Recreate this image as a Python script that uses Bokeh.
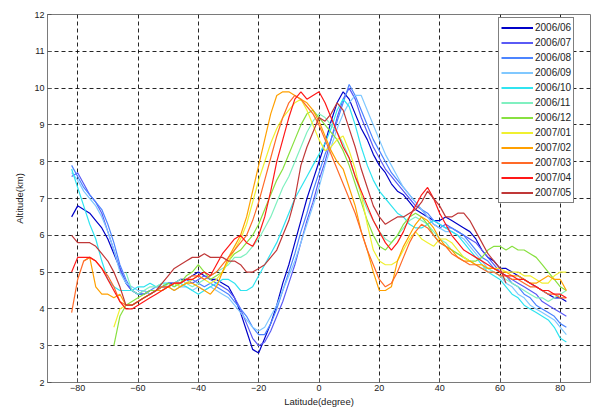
import numpy as np
from bokeh.plotting import figure
from bokeh.models import FixedTicker, Range1d, ColumnDataSource, Legend, LegendItem
from bokeh.embed import file_html
from bokeh.resources import INLINE

N = None

LAT = [-82,
       -80, -78, -76, -74, -72, -70, -68, -66, -64, -62,
       -60, -58, -56, -54, -52, -50, -48, -46, -44, -42,
       -40, -38, -36, -34, -32, -30, -28, -26, -24, -22,
       -20, -18, -16, -14, -12, -10, -8, -6, -4, -2,
       0, 2, 4, 6, 8, 10, 12, 14, 16, 18,
       20, 22, 24, 26, 28, 30, 32, 34, 36, 38,
       40, 42, 44, 46, 48, 50, 52, 54, 56, 58,
       60, 62, 64, 66, 68, 70, 72, 74, 76, 78,
       80, 82]

MONTHS = ["2006/06", "2006/07", "2006/08", "2006/09", "2006/10", "2006/11",
          "2006/12", "2007/01", "2007/02", "2007/03", "2007/04", "2007/05"]

COLORS = ["#0000c8", "#5a5af5", "#4c84ff", "#80c8ff", "#30e4f0", "#80f0c0",
          "#88e040", "#f0f030", "#ffa000", "#ff6a28", "#ff1818", "#c03838"]

S0606 = [6.5,
         6.8, 6.7, 6.6, 6.4, 6.2,  5.9, 5.5, 5.1, 4.7, 4.5,
         4.4, 4.4, 4.5, 4.5, 4.6,  4.7, 4.7, 4.8, 4.8, 4.9,
         5.0, 4.9, 4.8, 4.8, 4.7,  4.6, 4.3, 3.9, 3.4, 2.9,
         2.8, 3.2, 3.6, 4.1, 4.7,  5.2, 5.8, 6.4, 7.0, 7.5,
         8.0, 8.5, 9.1, 9.6, 9.9,  9.7, 9.3, 8.9, 8.6, 8.2,
         7.9, 7.7, 7.4, 7.2, 7.1,  6.9, 6.7, 6.6, 6.5, 6.4,
         6.4, 6.5, 6.4, 6.3, 6.2,  6.1, 5.9, 5.6, 5.4, 5.3,
         5.1, 5.1, 5.0, 4.9, 4.8,  4.7, 4.6, 4.5, 4.4, 4.3,
         4.3, 4.2]

S0607 = [7.6,
         7.7, 7.4, 7.1, 6.9, 6.6,  6.1, 5.6, 5.1, 4.7, 4.5,
         4.4, 4.5, 4.4, 4.5, 4.6,  4.6, 4.7, 4.7, 4.8, 4.7,
         4.8, 4.9, 4.8, 4.7, 4.6,  4.5, 4.3, 4.0, 3.6, 3.2,
         3.0, 3.1, 3.4, 3.8, 4.2,  4.7, 5.2, 5.8, 6.4, 6.9,
         7.5, 8.0, 8.6, 9.2, 9.7,  10.0, 9.7, 9.2, 8.8, 8.4,
         8.1, 7.8, 7.6, 7.4, 7.2,  7.0, 6.8, 6.7, 6.5, 6.3,
         6.2, 6.3, 6.2, 6.1, 6.0,  5.9, 5.8, 5.6, 5.4, 5.2,
         5.0, 4.9, 4.8, 4.7, 4.6,  4.5, 4.4, 4.2, 4.1, 4.0,
         3.9, 3.8]

S0608 = [7.9,
         7.6, 7.3, 7.1, 6.9, 6.7,  6.3, 5.8, 5.2, 4.8, 4.5,
         4.4, 4.4, 4.5, 4.6, 4.6,  4.6, 4.7, 4.6, 4.7, 4.8,
         4.7, 4.6, 4.7, 4.6, 4.5,  4.4, 4.2, 4.0, 3.8, 3.5,
         3.3, 3.3, 3.6, 4.0, 4.5,  5.0, 5.5, 6.1, 6.6, 7.2,
         7.7, 8.2, 8.6, 9.1, 9.6,  10.1, 9.8, 9.4, 9.0, 8.6,
         8.3, 8.0, 7.7, 7.5, 7.3,  7.1, 6.9, 6.7, 6.6, 6.4,
         6.3, 6.2, 6.2, 6.1, 6.0,  5.8, 5.6, 5.4, 5.3, 5.1,
         5.0, 4.9, 4.7, 4.6, 4.4,  4.3, 4.1, 4.0, 3.9, 3.8,
         3.6, 3.5]

S0609 = [7.7,
         7.5, 7.2, 7.0, 6.8, 6.5,  6.1, 5.6, 5.0, 4.7, 4.6,
         4.5, 4.5, 4.4, 4.5, 4.5,  4.6, 4.5, 4.6, 4.6, 4.5,
         4.6, 4.5, 4.6, 4.5, 4.4,  4.3, 4.1, 3.9, 3.7, 3.5,
         3.4, 3.5, 3.8, 4.1, 4.5,  4.9, 5.3, 5.8, 6.3, 6.8,
         7.3, 7.9, 8.4, 8.9, 9.3,  9.6, 9.8, 9.8, 9.4, 9.0,
         8.6, 8.2, 7.9, 7.6, 7.3,  7.1, 6.9, 6.7, 6.5, 6.3,
         6.2, 6.1, 6.1, 6.0, 5.9,  5.7, 5.5, 5.3, 5.1, 5.0,
         4.9, 4.7, 4.6, 4.4, 4.3,  4.1, 4.0, 3.9, 3.8, 3.7,
         3.5, 3.3]

S0610 = [7.8,
         7.3, 6.8, 6.3, 5.9, 5.3,  4.8, 4.6, 4.5, 4.5, 4.5,
         4.6, 4.6, 4.7, 4.6, 4.7,  4.7, 4.6, 4.7, 4.6, 4.5,
         4.4, 4.5, 4.6, 4.7, 4.8,  4.8, 4.7, 4.5, 4.5, 4.6,
         4.9, 5.2, 5.5, 5.8, 6.2,  6.6, 7.0, 7.3, 7.6, 7.9,
         8.2, 8.5, 8.9, 9.4, 9.7,  9.5, 9.0, 8.4, 7.9, 7.5,
         7.2, 7.0, 6.8, 6.6, 6.5,  6.3, 6.2, 6.2, 6.3, 6.4,
         6.3, 6.2, 6.1, 6.0, 5.8,  5.6, 5.4, 5.2, 5.0, 4.9,
         4.8, 4.6, 4.4, 4.3, 4.1,  4.0, 3.9, 3.8, 3.7, 3.5,
         3.2, 3.1]

S0611 = [N,
         N, N, N, N, N,  N, N, N, 5.0, 4.5,
         4.4, 4.5, 4.6, 4.6, 4.7,  4.6, 4.7, 4.8, 4.7, 4.6,
         4.7, 4.8, 4.9, 5.0, 5.1,  5.2, 5.4, 5.4, 5.5, 5.7,
         5.9, 6.2, 6.5, 6.9, 7.3,  7.6, 8.0, 8.4, 8.8, 9.1,
         9.3, 9.2, 9.0, 8.8, 8.5,  8.1, 7.6, 7.1, 6.7, 6.4,
         6.1, 5.9, 5.8, 6.0, 6.2,  6.4, 6.5, 6.4, 6.3, 6.1,
         5.9, 5.8, 5.6, 5.5, 5.4,  5.3, 5.2, 5.1, 5.1, 5.0,
         4.9, 4.8, 4.7, 4.6, 4.5,  4.4, 4.3, 4.3, 4.2, 4.3,
         4.4, 4.5]

S0612 = [N,
         N, N, N, N, N,  N, 3.0, 3.8, 4.1, 4.2,
         4.3, 4.4, 4.5, 4.5, 4.6,  4.7, 4.6, 4.7, 4.9, 5.0,
         5.2, 5.0, 4.8, 4.9, 5.0,  5.3, 5.5, 5.6, 5.8, 6.0,
         6.3, 6.7, 7.1, 7.5, 7.8,  8.2, 8.6, 9.0, 9.3, 9.4,
         9.2, 9.0, 8.8, 8.6, 8.3,  7.9, 7.4, 6.9, 6.4, 6.0,
         5.7, 5.6, 5.8, 6.0, 6.3,  6.5, 6.6, 6.5, 6.3, 6.0,
         5.8, 5.7, 5.6, 5.5, 5.4,  5.3, 5.3, 5.4, 5.6, 5.7,
         5.7, 5.6, 5.7, 5.6, 5.6,  5.5, 5.4, 5.2, 5.0, 4.8,
         4.6, 4.5]

S0701 = [N,
         N, N, N, N, N,  N, 3.5, 4.0, 4.1, 4.1,
         4.2, 4.3, 4.4, 4.5, 4.5,  4.6, 4.7, 4.6, 4.7, 4.8,
         4.9, 4.8, 4.7, 4.8, 5.0,  5.3, 5.6, 5.9, 6.3, 6.9,
         7.5, 8.0, 8.5, 8.9, 9.2,  9.4, 9.6, 9.7, 9.4, 9.0,
         8.6, 8.3, 8.4, 8.6, 8.7,  8.3, 7.8, 7.1, 6.3, 5.6,
         5.3, 5.2, 5.2, 5.3, 5.6,  5.9, 6.1, 5.9, 5.8, 5.7,
         5.9, 5.9, 5.8, 5.6, 5.4,  5.3, 5.2, 5.2, 5.1, 5.1,
         5.1, 5.0, 5.0, 5.0, 4.9,  4.9, 4.8, 4.7, 4.7, 4.9,
         5.0, 5.0]

S0702 = [N,
         N, 5.3, 5.4, 4.6, 4.4,  4.4, 4.3, 4.4, 4.1, 4.1,
         4.2, 4.3, 4.4, 4.5, 4.5,  4.6, 4.5, 4.6, 4.7, 4.7,
         4.6, 4.5, 4.4, 4.6, 5.0,  5.4, 5.7, 6.0, 6.5, 7.2,
         7.9, 8.6, 9.3, 9.8, 9.9,  9.9, 9.8, 9.7, 9.6, 9.4,
         9.1, 8.7, 8.3, 8.0, 7.8,  7.3, 6.8, 6.1, 5.6, 5.0,
         4.5, 4.5, 4.6, 5.3, 5.7,  6.0, 6.3, 6.5, 6.4, 6.2,
         5.9, 5.7, 5.6, 5.4, 5.3,  5.3, 5.2, 5.2, 5.1, 5.1,
         5.0, 5.0, 4.9, 4.9, 4.8,  4.7, 4.7, 4.8, 4.9, 4.8,
         4.8, 4.5]

S0703 = [3.9,
         4.8, 5.3, 5.4, 5.3, 5.1,  4.9, 4.6, 4.2, 4.1, 4.1,
         4.2, 4.3, 4.4, 4.5, 4.6,  4.6, 4.7, 4.7, 4.8, 4.9,
         4.9, 4.8, 4.9, 5.0, 5.2,  5.4, 5.6, 5.8, 6.0, 6.4,
         6.9, 7.5, 8.1, 8.7, 9.2,  9.6, 9.8, 9.7, 9.5, 9.3,
         9.0, 8.6, 8.2, 7.8, 7.4,  7.0, 6.6, 6.1, 5.6, 5.2,
         4.8, 4.6, 4.7, 5.0, 5.4,  5.8, 6.1, 6.3, 6.2, 6.0,
         5.8, 5.7, 5.5, 5.4, 5.3,  5.2, 5.2, 5.1, 5.0, 5.0,
         4.9, 4.9, 4.8, 4.8, 4.7,  4.6, 4.6, 4.5, 4.4, 4.4,
         4.3, 4.3]

S0704 = [5.0,
         5.4, 5.4, 5.4, 5.3, 5.1,  4.8, 4.5, 4.2, 4.0, 4.0,
         4.1, 4.2, 4.3, 4.4, 4.5,  4.6, 4.7, 4.7, 4.8, 4.8,
         4.9, 5.0, 4.9, 5.2, 5.5,  5.7, 5.9, 6.0, 5.8, 5.7,
         6.0, 6.5, 7.2, 8.0, 8.6,  9.2, 9.7, 9.9, 9.7, 9.8,
         9.9, 9.6, 9.2, 8.8, 8.4,  8.1, 7.6, 7.2, 6.8, 6.4,
         6.1, 5.8, 5.6, 5.8, 6.1,  6.5, 6.8, 7.1, 7.3, 7.0,
         6.6, 6.3, 6.0, 5.8, 5.6,  5.5, 5.4, 5.3, 5.2, 5.1,
         5.0, 4.9, 4.9, 4.8, 4.8,  4.7, 4.6, 4.5, 4.5, 4.4,
         4.4, 4.3]

S0705 = [6.0,
         5.8, 5.8, 5.8, 5.7, 5.5,  5.3, 5.0, 4.6, 4.1, 4.1,
         4.2, 4.3, 4.4, 4.5, 4.7,  4.9, 5.1, 5.2, 5.3, 5.4,
         5.4, 5.5, 5.4, 5.4, 5.4,  5.3, 5.3, 5.2, 5.0, 5.0,
         5.1, 5.2, 5.4, 5.6, 6.0,  6.4, 7.0, 7.9, 8.4, 8.8,
         9.2, 9.1, 9.3, 9.6, 9.4,  8.9, 8.4, 7.8, 7.3, 6.8,
         6.5, 6.3, 6.4, 6.5, 6.5,  6.6, 6.7, 6.9, 7.2, 7.0,
         6.8, 6.5, 6.5, 6.6, 6.6,  6.4, 6.1, 5.8, 5.5, 5.3,
         5.1, 4.7, N, N, N,  N, N, N, N, N,
         N, N]

SERIES = [S0606, S0607, S0608, S0609, S0610, S0611,
          S0612, S0701, S0702, S0703, S0704, S0705]

XTICKS = [-80, -60, -40, -20, 0, 20, 40, 60, 80]
YTICKS = [2, 3, 4, 5, 6, 7, 8, 9, 10, 11, 12]

for s in SERIES:
    assert len(s) == len(LAT), len(s)

FONT = "Liberation Sans"
TXT = "#222222"

p = figure(width=596, height=409, output_backend="svg", toolbar_location=None,
           x_range=Range1d(-90, 90), y_range=Range1d(2, 12),
           min_border_left=47, min_border_right=6, min_border_top=14,
           min_border_bottom=26)
p.background_fill_color = "white"
p.border_fill_color = "white"
p.outline_line_color = "#7a7a7a"
p.outline_line_width = 1

for ax in (p.xaxis, p.yaxis):
    ax.axis_line_color = "#7a7a7a"
    ax.major_tick_line_color = "#555555"
    ax.major_tick_in = 4
    ax.major_tick_out = 0
    ax.minor_tick_line_color = None
    ax.major_label_text_font = FONT
    ax.major_label_text_font_size = "9px"
    ax.major_label_text_color = TXT
    ax.axis_label_text_font = FONT
    ax.axis_label_text_font_size = "9.5px"
    ax.axis_label_text_font_style = "normal"
    ax.axis_label_text_color = TXT
    ax.major_label_standoff = 3
    ax.axis_label_standoff = 2

p.xaxis.ticker = FixedTicker(ticks=XTICKS)
p.yaxis.ticker = FixedTicker(ticks=YTICKS)
p.xaxis.axis_label = "Latitude(degree)"
p.yaxis.axis_label = "Altitude(km)"
p.xaxis.major_label_standoff = 2
p.yaxis.axis_label_standoff = 6

p.xgrid.ticker = FixedTicker(ticks=XTICKS)
p.ygrid.ticker = FixedTicker(ticks=YTICKS[1:-1])
for g in (p.xgrid, p.ygrid):
    g.grid_line_color = "black"
    g.grid_line_alpha = 0.85
    g.grid_line_dash = "4 3"
    g.grid_line_width = 1

items = []
for name, col, s in zip(MONTHS, COLORS, SERIES):
    src = ColumnDataSource(dict(lat=np.array(LAT, dtype=float),
                                alt=np.array(s, dtype=float)))
    p.line("lat", "alt", source=src, line_color=col, line_width=1.2)
    # legend swatch renderer: same colour, slightly thicker, nothing drawn in plot
    sw_src = ColumnDataSource(dict(lat=[np.nan], alt=[np.nan]))
    sw = p.line("lat", "alt", source=sw_src, line_color=col, line_width=2)
    items.append(LegendItem(label=name, renderers=[sw]))

legend = Legend(items=items, location=(451, 179))
legend.padding = 2
legend.spacing = 0
legend.glyph_width = 32
legend.glyph_height = 15
legend.label_height = 15
legend.label_standoff = 2
legend.label_text_font = FONT
legend.label_text_font_size = "10px"
legend.label_text_color = TXT
legend.border_line_color = "black"
legend.border_line_width = 1
legend.background_fill_color = "white"
legend.background_fill_alpha = 1
p.add_layout(legend)

open("out.html", "w").write(file_html(p, INLINE))
